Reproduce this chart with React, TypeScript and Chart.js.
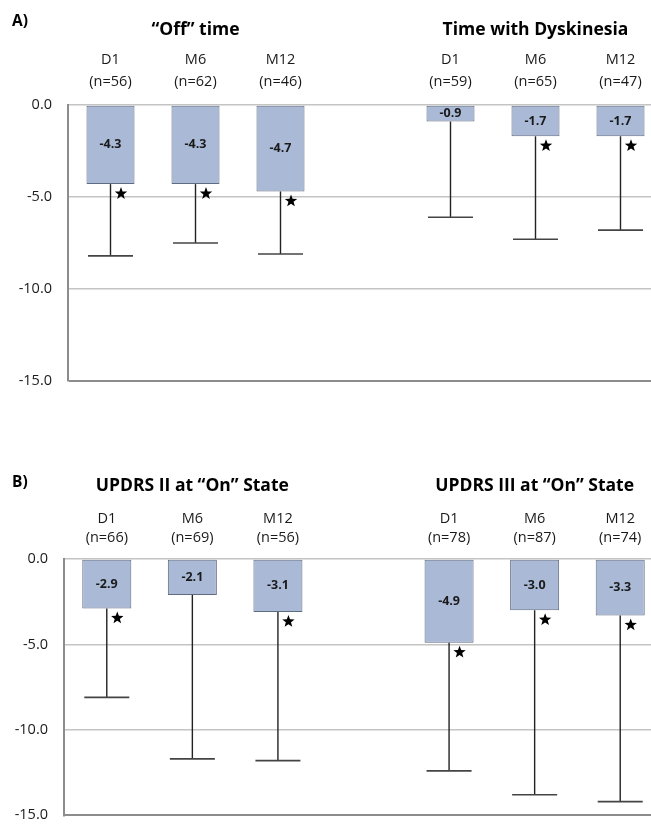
import React, { useEffect, useRef } from 'react';
import { Chart, registerables } from 'chart.js';

Chart.register(...registerables);

// ---------- data ----------
const categories = ['D1', 'M6', 'M12', '', 'D1', 'M6', 'M12'];
const yTicks = [0, -5, -10, -15];

const topPanelLabel = 'A)';
const topTitles = ['“Off” time', 'Time with Dyskinesia'];
const topN = ['(n=56)', '(n=62)', '(n=46)', '', '(n=59)', '(n=65)', '(n=47)'];
const topValues = [-4.3, -4.3, -4.7, null, -0.9, -1.7, -1.7];
const topErrLow = [-8.2, -7.5, -8.1, null, -6.1, -7.3, -6.8];
const topStars = [true, true, true, false, false, true, true];

const bottomPanelLabel = 'B)';
const bottomTitles = ['UPDRS II at “On” State', 'UPDRS III at “On” State'];
const bottomN = ['(n=66)', '(n=69)', '(n=56)', '', '(n=78)', '(n=87)', '(n=74)'];
const bottomValues = [-2.9, -2.1, -3.1, null, -4.9, -3.0, -3.3];
const bottomErrLow = [-8.1, -11.7, -11.8, null, -12.4, -13.8, -14.2];
const bottomStars = [true, false, true, false, true, true, true];

// ---------- style ----------
const FONT = '"Open Sans", Lato, "DejaVu Sans", sans-serif';
const BAR_FILL = '#a9b9d6';
const BAR_BORDER = '#5f6b80';
const GRID = '#c4c4c4';
const AXIS = '#8c8c8c';
const TEXT = '#1a1a1a';

type PanelProps = {
  top: number;
  panelLabel: string;
  titles: string[];
  nLabels: string[];
  values: (number | null)[];
  errLow: (number | null)[];
  stars: boolean[];
  yAxisWidth: number;
  xAxisHeight: number;
  padBottom: number;
  tickPad: number;
  lineHeight: number;
  labelY: number;
  titleY: number;
  barPct: number;
};

function drawStar(ctx: CanvasRenderingContext2D, cx: number, cy: number, R: number, r: number) {
  ctx.beginPath();
  for (let i = 0; i < 10; i++) {
    const rad = i % 2 === 0 ? R : r;
    const a = -Math.PI / 2 + (i * Math.PI) / 5;
    const x = cx + rad * Math.cos(a);
    const y = cy + rad * Math.sin(a);
    if (i === 0) ctx.moveTo(x, y);
    else ctx.lineTo(x, y);
  }
  ctx.closePath();
  ctx.fill();
}

function Panel(p: PanelProps) {
  const ref = useRef<HTMLCanvasElement>(null);

  useEffect(() => {
    const canvas = ref.current;
    if (!canvas) return;

    const decorPlugin = {
      id: 'decor',
      afterDatasetsDraw(chart: any) {
        const ctx: CanvasRenderingContext2D = chart.ctx;
        const meta = chart.getDatasetMeta(0);
        const yScale = chart.scales.y;
        ctx.save();
        meta.data.forEach((bar: any, i: number) => {
          const v = p.values[i];
          if (v === null || v === undefined) return;
          const x = bar.x;
          const yEnd = bar.y;
          const base = bar.base;
          // error bar (downward only)
          const lo = p.errLow[i];
          if (lo !== null && lo !== undefined) {
            const yLo = yScale.getPixelForValue(lo);
            ctx.strokeStyle = '#222';
            ctx.lineWidth = 1.4;
            ctx.beginPath();
            ctx.moveTo(x, yEnd);
            ctx.lineTo(x, yLo);
            ctx.stroke();
            ctx.strokeStyle = '#444';
            ctx.lineWidth = 1.6;
            ctx.beginPath();
            ctx.moveTo(x - 22.5, yLo);
            ctx.lineTo(x + 22.5, yLo);
            ctx.stroke();
          }
          // value label
          ctx.fillStyle = TEXT;
          ctx.font = `bold 12.5px ${FONT}`;
          ctx.textAlign = 'center';
          ctx.textBaseline = 'middle';
          ctx.fillText(v.toFixed(1), x, (yEnd + base) / 2);
          // significance star
          if (p.stars[i]) {
            ctx.fillStyle = '#000';
            drawStar(ctx, x + 10.5, yEnd + 9.5, 6.5, 2.7);
          }
        });
        // titles
        const xScale = chart.scales.x;
        ctx.fillStyle = '#000';
        ctx.textBaseline = 'middle';
        ctx.font = `bold 15.5px ${FONT}`;
        ctx.textAlign = 'left';
        ctx.fillText(p.panelLabel, 12, p.labelY);
        ctx.font = `bold 17.5px ${FONT}`;
        ctx.textAlign = 'center';
        ctx.fillText(p.titles[0], xScale.getPixelForValue(1), p.titleY);
        ctx.fillText(p.titles[1], xScale.getPixelForValue(5), p.titleY);
        ctx.restore();
      },
    };

    const chart = new Chart(canvas, {
      type: 'bar',
      data: {
        labels: categories,
        datasets: [
          {
            data: p.values as any,
            backgroundColor: BAR_FILL,
            borderColor: BAR_BORDER,
            borderWidth: 1,
            borderSkipped: false,
            categoryPercentage: 1,
            barPercentage: p.barPct,
          },
        ],
      },
      options: {
        responsive: false,
        animation: false,
        devicePixelRatio: 1,
        layout: { padding: { left: 0, right: 0, top: 0, bottom: p.padBottom } },
        plugins: {
          legend: { display: false },
          tooltip: { enabled: false },
          title: { display: false },
        },
        scales: {
          x: {
            position: 'top',
            offset: true,
            grid: { display: false, drawTicks: false },
            border: { display: false },
            ticks: {
              autoSkip: false,
              maxRotation: 0,
              minRotation: 0,
              padding: p.tickPad,
              color: TEXT,
              font: { family: FONT, size: 14.5, lineHeight: p.lineHeight },
              callback: (_v: any, i: number) => [categories[i], p.nLabels[i]],
            },
            afterFit: (s: any) => {
              s.height = p.xAxisHeight;
            },
          },
          y: {
            min: -15,
            max: 0,
            afterBuildTicks: (s: any) => {
              s.ticks = yTicks.map((v) => ({ value: v }));
            },
            grid: {
              drawTicks: false,
              color: (c: any) => (c.tick && c.tick.value === -15 ? AXIS : GRID),
              lineWidth: (c: any) => (c.tick && c.tick.value === -15 ? 2 : 1.5),
            },
            border: { display: true, color: AXIS, width: 2 },
            ticks: {
              padding: 16,
              color: TEXT,
              font: { family: FONT, size: 14.5 },
              callback: (v: any) => Number(v).toFixed(1),
            },
            afterFit: (s: any) => {
              s.width = p.yAxisWidth;
            },
          },
        },
      },
      plugins: [decorPlugin],
    } as any);

    return () => chart.destroy();
  }, []);

  return (
    <canvas
      ref={ref}
      width={663}
      height={420}
      style={{ position: 'absolute', left: 0, top: p.top, display: 'block' }}
    />
  );
}

export default function App() {
  return (
    <div
      style={{
        position: 'fixed',
        left: 0,
        top: 0,
        width: 651,
        height: 840,
        overflow: 'hidden',
        background: '#fff',
      }}
    >
      <Panel
        top={0}
        panelLabel={topPanelLabel}
        titles={topTitles}
        nLabels={topN}
        values={topValues}
        errLow={topErrLow}
        stars={topStars}
        yAxisWidth={68}
        xAxisHeight={105}
        padBottom={39}
        tickPad={12.5}
        lineHeight={1.5}
        labelY={22}
        titleY={30}
        barPct={0.565}
      />
      <Panel
        top={420}
        panelLabel={bottomPanelLabel}
        titles={bottomTitles}
        nLabels={bottomN}
        values={bottomValues}
        errLow={bottomErrLow}
        stars={bottomStars}
        yAxisWidth={64}
        xAxisHeight={139}
        padBottom={3}
        tickPad={11}
        lineHeight={1.34}
        labelY={63}
        titleY={66}
        barPct={0.573}
      />
    </div>
  );
}
